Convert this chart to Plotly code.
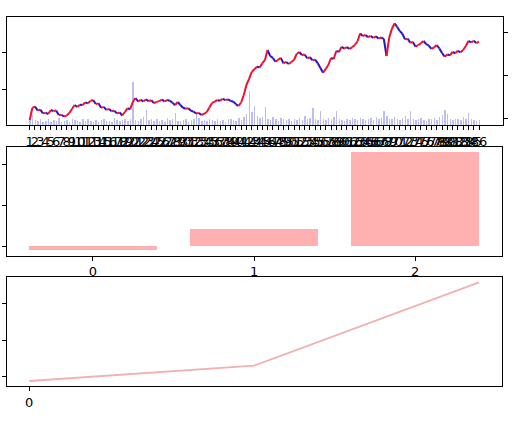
import plotly.graph_objects as go

# ---------------- data ----------------
price = [
    1.70, 4.95, 5.35, 4.30, 4.50, 3.50, 3.70, 3.32, 4.40, 4.10,
    4.25, 3.05, 3.10, 2.65, 2.90, 3.59, 4.68, 5.76, 5.20, 5.85,
    5.75, 6.45, 6.20, 6.85, 7.11, 6.03, 6.20, 5.00, 5.25, 4.45,
    4.70, 4.05, 4.20, 3.50, 3.75, 2.92, 3.86, 4.86, 4.60, 6.57,
    7.65, 6.70, 7.15, 6.75, 7.25, 6.80, 7.05, 6.25, 6.60, 6.80,
    7.20, 6.75, 7.10, 6.90, 6.40, 5.70, 6.57, 5.76, 5.00, 4.75,
    4.90, 4.20, 3.95, 3.45, 3.60, 3.05, 3.40, 3.86, 5.08, 6.30,
    6.70, 7.05, 6.90, 7.40, 7.10, 7.25, 6.85, 6.70, 6.00, 5.49,
    6.43, 8.46, 11.16, 12.80, 14.68, 15.40, 16.10, 15.90, 17.00, 17.92,
    20.62, 19.00, 18.50, 17.45, 18.00, 18.50, 17.03, 17.40, 16.85, 17.38,
    17.92, 19.54, 20.08, 19.27, 19.40, 18.40, 18.65, 17.85, 18.00, 17.03,
    15.76, 14.49, 15.49, 16.57, 18.46, 18.20, 20.35, 20.10, 21.50, 21.00,
    21.40, 20.90, 21.35, 21.97, 22.92, 25.08, 24.40, 24.70, 24.10, 24.40,
    23.90, 24.30, 23.70, 24.05, 23.60, 19.00, 23.86, 26.30, 27.78, 26.92,
    25.76, 25.00, 23.51, 23.70, 22.59, 22.80, 21.51, 21.97, 22.43, 23.05,
    22.24, 21.80, 20.95, 21.30, 21.97, 21.03, 19.81, 18.81, 19.41, 19.20,
    20.08, 19.75, 20.40, 20.00, 20.62, 21.70, 23.05, 22.70, 23.10, 22.50,
    22.86,
]

volume = [
    150, 230, 120, 90, 140, 80, 100, 130, 70, 110,
    90, 160, 80, 100, 120, 70, 140, 110, 90, 80,
    130, 100, 150, 90, 80, 120, 70, 110, 140, 90,
    100, 80, 160, 120, 90, 110, 150, 100, 130, 1000,
    120, 90, 140, 180, 350, 110, 130, 90, 150, 100,
    120, 80, 160, 110, 130, 280, 100, 90, 120, 140,
    80, 110, 150, 280, 160, 100, 120, 90, 130, 110,
    90, 140, 100, 120, 80, 130, 150, 110, 90, 160,
    120, 180, 250, 800, 300, 450, 200, 160, 180, 420,
    150, 120, 180, 140, 100, 160, 130, 110, 150, 90,
    140, 120, 160, 110, 200, 130, 170, 400, 150, 120,
    330, 140, 110, 160, 130, 180, 330, 150, 120, 100,
    140, 110, 160, 130, 120, 170, 150, 110, 130, 160,
    120, 180, 140, 160, 320, 200, 150, 130, 180, 140,
    120, 160, 200, 130, 320, 150, 110, 140, 170, 120,
    100, 150, 130, 160, 120, 180, 230, 340, 250, 150,
    110, 140, 130, 120, 180, 150, 280, 130, 110, 90,
    120,
]

top_tick_pos = list(range(0, 171, 2))
top_tick_labels = [str(k) for k in range(1, len(top_tick_pos) + 1)]

bar_cats = [0, 1, 2]
bar_vals = [-85, 430, 2300]

line_x = [0, 1, 2]
line_vals = [-117, 300, 2570]

# ---------------- figure ----------------
idx = list(range(len(price)))
rx, ry, bx, by = [], [], [], []
for i in range(len(price) - 1):
    if price[i + 1] >= price[i]:
        rx += [idx[i], idx[i + 1], None]
        ry += [price[i], price[i + 1], None]
    else:
        bx += [idx[i], idx[i + 1], None]
        by += [price[i], price[i + 1], None]

fig = go.Figure()

fig.add_trace(go.Bar(x=idx, y=volume, width=0.55,
                     marker=dict(color="rgba(90,90,220,0.4)", line=dict(width=0)),
                     xaxis="x", yaxis="y", showlegend=False))
fig.add_trace(go.Scatter(x=bx, y=by, mode="lines",
                         line=dict(color="#2a14c8", width=2),
                         xaxis="x", yaxis="y2", showlegend=False))
fig.add_trace(go.Scatter(x=rx, y=ry, mode="lines",
                         line=dict(color="#ee1030", width=2),
                         xaxis="x", yaxis="y2", showlegend=False))

fig.add_trace(go.Bar(x=bar_cats, y=bar_vals, width=0.8,
                     marker=dict(color="#ffb1b1", line=dict(width=0)),
                     xaxis="x3", yaxis="y3", showlegend=False))

fig.add_trace(go.Scatter(x=line_x, y=line_vals, mode="lines",
                         line=dict(color="#f2b0b0", width=1.8),
                         xaxis="x4", yaxis="y4", showlegend=False))

font = dict(family="DejaVu Sans", size=13, color="black")
frame = dict(showline=True, linecolor="black", linewidth=1, mirror=True,
             showgrid=False, zeroline=False, ticks="outside", ticklen=4,
             tickcolor="black", tickfont=font, automargin=False)

xd_top = [6.7 / 512, 502.7 / 512]
xd = [7 / 512, 502 / 512]

fig.update_layout(
    width=512, height=448,
    margin=dict(l=0, r=0, t=0, b=0, autoexpand=False),
    paper_bgcolor="white", plot_bgcolor="white",
    showlegend=False,
    bargap=0,
    xaxis=dict(domain=xd_top, anchor="y", range=[-8.7, 178.96],
               tickmode="array", tickvals=top_tick_pos, ticktext=top_tick_labels,
               tickangle=0, **frame),
    yaxis=dict(domain=[(448 - 125) / 448, (448 - 17) / 448], anchor="x",
               side="right", range=[0, 2512],
               tickmode="array", tickvals=[156, 1156, 2156], ticktext=["", "", ""],
               **frame),
    yaxis2=dict(overlaying="y", anchor="x", side="left", range=[0.35, 29.54],
                tickmode="array", tickvals=[0, 10, 20, 30], ticktext=["", "", "", ""],
                showline=False, showgrid=False, zeroline=False, ticks="outside",
                ticklen=4, tickcolor="black", automargin=False),
    xaxis3=dict(domain=xd, anchor="y3", range=[-0.534, 2.54],
                tickmode="array", tickvals=bar_cats, ticktext=[str(c) for c in bar_cats],
                ticklabelstandoff=-1, **frame),
    yaxis3=dict(domain=[(448 - 256) / 448, (448 - 147.3) / 448], anchor="x3",
                range=[-227, 2424], tickmode="array", tickvals=[0, 1000, 2000],
                ticktext=["", "", ""], **frame),
    xaxis4=dict(domain=xd, anchor="y4", range=[-0.099, 2.102],
                tickmode="array", tickvals=[0], ticktext=["0"], **frame),
    yaxis4=dict(domain=[(448 - 386) / 448, (448 - 277.3) / 448], anchor="x4",
                range=[-253, 2708], tickmode="array", tickvals=[0, 1000, 2000],
                ticktext=["", "", ""], **frame),
)

fig.write_html(
    "out.html",
    config={"responsive": False, "displayModeBar": False},
    post_script="document.body.style.margin='0';document.body.style.overflow='hidden';",
)
